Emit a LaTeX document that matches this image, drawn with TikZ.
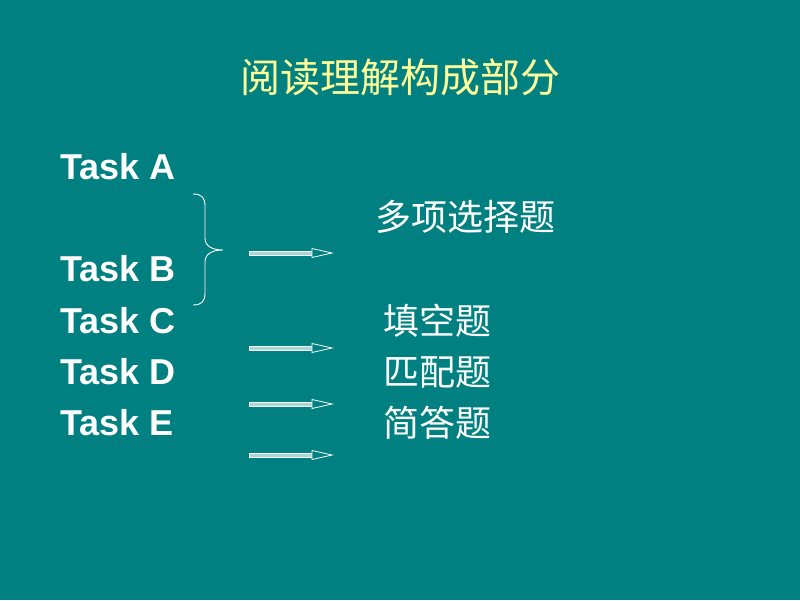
\documentclass[tikz,border=0pt]{standalone}
\usepackage{fontspec}
\setmainfont{Liberation Sans}
\newfontfamily\cjk{Noto Sans CJK SC}
\definecolor{bgteal}{RGB}{0,128,128}
\definecolor{titleyellow}{RGB}{255,255,153}
\definecolor{shaftfill}{RGB}{170,214,214}
\begin{document}
\begin{tikzpicture}[x=1pt,y=-1pt,
  task/.style={anchor=west,inner sep=0pt,text=white,font=\fontsize{36}{36}\selectfont\bfseries},
  cn/.style={anchor=west,inner sep=0pt,text=white,font=\cjk\fontsize{36}{36}\selectfont},
  hollowshaft/.style={draw=white,fill=shaftfill,line width=0.8pt,line join=miter},
  hollowhead/.style={draw=white,fill=bgteal,line width=0.8pt,line join=miter},
  bracestyle/.style={draw=white,line width=0.9pt}]
\fill[bgteal] (0,0) rectangle (800,600);
\useasboundingbox (0,0) rectangle (800,600);
\node[text=titleyellow,inner sep=0pt,font=\cjk\fontsize{40}{40}\selectfont] (title) at (400,77) {阅读理解构成部分};
\node[task] (ta) at (60,167) {Task A};
\node[task] (tb) at (60,269) {Task B};
\node[task] (tc) at (60,321) {Task C};
\node[task] (td) at (60,372) {Task D};
\node[task] (te) at (60,423) {Task E};
\node[cn] (c1) at (375,217) {多项选择题};
\node[cn] (c2) at (383,321) {填空题};
\node[cn] (c3) at (383,372) {匹配题};
\node[cn] (c4) at (383,423) {简答题};
% brace
\coordinate (btop) at (193,194);
\coordinate (btip) at (223,250);
\coordinate (bbot) at (193,305);
\draw[bracestyle] (btop) .. controls (202,194) and (205,198) .. (205,206) -- (205,238)
  .. controls (205,246) and (212,250) .. (btip)
  .. controls (212,250) and (205,254) .. (205,262) -- (205,293)
  .. controls (205,301) and (202,305) .. (bbot);
% hollow arrows
\foreach \n/\y in {1/253,2/348,3/404,4/455}{
  \coordinate (as\n) at (249,\y);
  \coordinate (ae\n) at (332,\y);
  \draw[hollowshaft] (as\n) ++(0,-2) -- ++(63,0) -- ++(0,4) -- ++(-63,0) -- cycle;
  \draw[hollowhead] (ae\n) -- ++(-20,-4.5) -- ++(0,9) -- cycle;
}
\end{tikzpicture}
\end{document}
